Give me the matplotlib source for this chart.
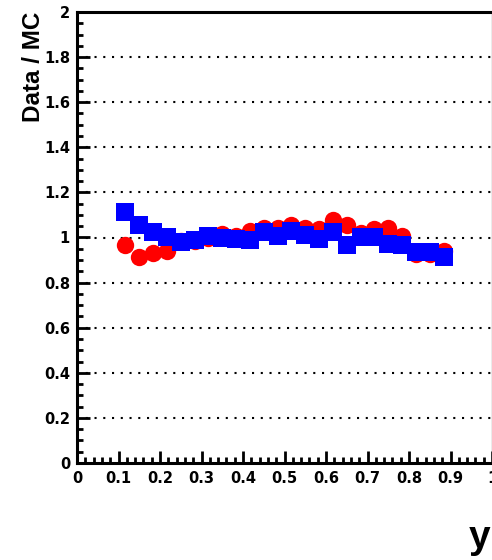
import matplotlib
matplotlib.use("Agg")
import matplotlib.pyplot as plt
from matplotlib.ticker import MultipleLocator, FuncFormatter

plt.rcParams['font.family'] = ['Liberation Sans', 'DejaVu Sans']

x_centers = [0.1167, 0.15, 0.1833, 0.2167, 0.25, 0.2833, 0.3167, 0.35,
             0.3833, 0.4167, 0.45, 0.4833, 0.5167, 0.55, 0.5833, 0.6167,
             0.65, 0.6833, 0.7167, 0.75, 0.7833, 0.8167, 0.85, 0.8833]
red_ratio = [0.965, 0.915, 0.933, 0.941, 0.983, 0.985, 0.997, 1.014,
             1.005, 1.029, 1.042, 1.042, 1.054, 1.044, 1.039, 1.076,
             1.057, 1.021, 1.036, 1.044, 1.007, 0.928, 0.928, 0.940]
blue_ratio = [1.113, 1.057, 1.024, 1.002, 0.979, 0.990, 1.007, 1.000,
              0.995, 0.989, 1.023, 1.006, 1.030, 1.012, 0.993, 1.024,
              0.965, 1.004, 1.004, 0.973, 0.968, 0.934, 0.934, 0.915]
y_grid = [0.2, 0.4, 0.6, 0.8, 1.0, 1.2, 1.4, 1.6, 1.8]

fig = plt.figure(figsize=(4.92, 5.6), dpi=100)
ax = fig.add_axes([77/492, 97/560, 415/492, 451/560])
ax.set_xlim(0, 1)
ax.set_ylim(0, 2)

for g in y_grid:
    ax.axhline(g, color='black', linewidth=1.5, linestyle=(0, (1, 3.2)), zorder=1)

ax.plot(x_centers, red_ratio, 'o', color='red', markersize=12.5, markeredgewidth=0, zorder=3)
ax.plot(x_centers, blue_ratio, 's', color='blue', markersize=12.3, markeredgewidth=0, zorder=4)

for side in ['left', 'bottom', 'top']:
    ax.spines[side].set_linewidth(2.2)
    ax.spines[side].set_color('black')
ax.spines['right'].set_linewidth(1.0)
ax.spines['right'].set_color('#999999')

ax.xaxis.set_major_locator(MultipleLocator(0.1))
ax.xaxis.set_minor_locator(MultipleLocator(0.02))
ax.yaxis.set_major_locator(MultipleLocator(0.2))
ax.yaxis.set_minor_locator(MultipleLocator(0.05))

def fmt(v, pos):
    s = f"{v:.1f}"
    if s.endswith(".0"):
        s = s[:-2]
    return s

ax.xaxis.set_major_formatter(FuncFormatter(fmt))
ax.yaxis.set_major_formatter(FuncFormatter(fmt))

ax.tick_params(axis='both', which='major', direction='in', length=9, width=2,
               labelsize=10.5, top=False, right=False)
ax.tick_params(axis='both', which='minor', direction='in', length=4.5, width=2,
               top=False, right=False)
ax.tick_params(axis='x', which='major', pad=6)
ax.tick_params(axis='y', which='major', pad=5)
for lab in ax.get_xticklabels() + ax.get_yticklabels():
    lab.set_fontweight('bold')
    lab.set_family(['DejaVu Sans'])

ax.set_ylabel('Data / MC', fontsize=17.5, fontweight='bold', ha='right', y=1.0)
ax.yaxis.set_label_coords(-0.076, 1.0)

fig.text(490/492, 1 - 548/560, 'y', fontsize=28, fontweight='bold',
         ha='right', va='baseline')

fig.savefig('out.png', dpi=100)
